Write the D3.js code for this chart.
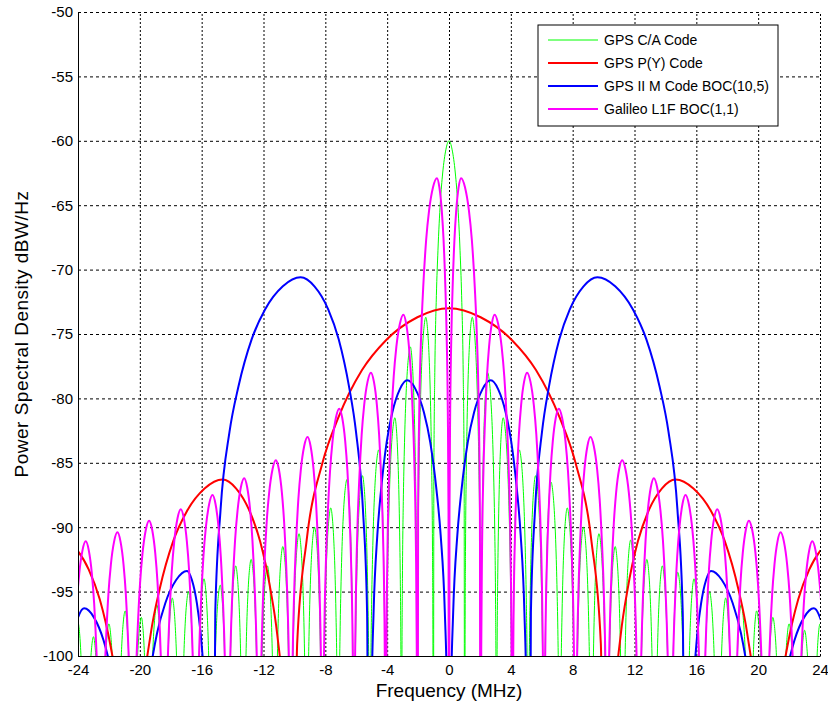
<!DOCTYPE html>
<html>
<head>
<meta charset="utf-8">
<script src="https://d3js.org/d3.v7.min.js"></script>
<style>
    body { margin: 0; background: #fff; }
    #chart text { font-family: "Liberation Sans", Arial, Helvetica, sans-serif; fill: #000; }
</style>
</head>
<body>
<div id="chart"></div>
<script>
// axis ticks
let freqTicks = [-24, -20, -16, -12, -8, -4, 0, 4, 8, 12, 16, 20, 24];
let dbTicks = [-100, -95, -90, -85, -80, -75, -70, -65, -60, -55, -50];

// GPS C/A code: null frequencies (MHz) and one peak [MHz, dBW/Hz] per lobe
let caNulls = [-24.55, -23.53, -22.51, -21.48, -20.46, -19.44, -18.41, -17.39, -16.37, -15.35, -14.32, -13.30,
    -12.28, -11.25, -10.23, -9.21, -8.18, -7.16, -6.14, -5.12, -4.09, -3.07, -2.05, -1.02,
    1.02, 2.05, 3.07, 4.09, 5.12, 6.14, 7.16, 8.18, 9.21, 10.23, 11.25, 12.28,
    13.30, 14.32, 15.35, 16.37, 17.39, 18.41, 19.44, 20.46, 21.48, 22.51, 23.53, 24.55];
let caPeaks = [
    [-24.0, -97.4], [-23.0, -98.5], [-22.0, -97.5], [-20.95, -96.5], [-19.9, -97.0], [-18.9, -96.0],
    [-17.9, -95.5], [-16.85, -95.0], [-15.85, -94.0], [-14.8, -94.5], [-13.8, -93.0], [-12.8, -92.5],
    [-11.75, -93.0], [-10.75, -91.5], [-9.7, -90.5], [-8.7, -90.0], [-7.65, -88.5], [-6.6, -86.3],
    [-5.6, -86.0], [-4.55, -84.0], [-3.5, -81.5], [-2.5, -76.0], [-1.5, -73.7],
    [0, -60.0],
    [1.5, -73.7], [2.5, -78.0], [3.5, -81.5], [4.55, -84.0], [5.6, -86.0], [6.6, -86.5],
    [7.65, -88.5], [8.7, -90.0], [9.7, -90.5], [10.75, -91.5], [11.75, -91.0], [12.8, -92.5],
    [13.8, -93.0], [14.8, -93.5], [15.85, -94.0], [16.85, -95.0], [17.9, -95.5], [18.9, -96.0],
    [19.9, -96.5], [20.95, -97.0], [22.0, -97.5], [23.0, -98.0], [24.0, -97.5]
];

// GPS P(Y) code
let pyNulls = [-30.69, -20.46, -10.23, 10.23, 20.46, 30.69];
let pyPeaks = [[-25.2, -90.8], [-14.65, -86.3], [0, -73.0], [14.65, -86.3], [25.2, -90.8]];

// GPS II M code BOC(10,5)
let mNulls = [-25.58, -20.46, -15.35, -5.12, 0, 5.12, 15.35, 20.46, 25.58];
let mPeaks = [[-23.6, -96.3], [-16.95, -93.4], [-9.6, -70.6], [-2.7, -78.6],
    [2.7, -78.6], [9.6, -70.6], [16.95, -93.4], [23.6, -96.3]];

// Galileo L1F BOC(1,1)
let boc11Nulls = [-24.55, -22.51, -20.46, -18.41, -16.37, -14.32, -12.28, -10.23, -8.18, -6.14, -4.09, -2.05, 0,
    2.05, 4.09, 6.14, 8.18, 10.23, 12.28, 14.32, 16.37, 18.41, 20.46, 22.51, 24.55];
let boc11Peaks = [
    [-23.5, -91.1], [-21.45, -90.4], [-19.4, -89.5], [-17.35, -88.6], [-15.3, -87.5], [-13.25, -86.2],
    [-11.2, -84.8], [-9.15, -83.0], [-7.1, -80.8], [-5.05, -78.0], [-2.95, -73.5], [-0.78, -62.9],
    [0.78, -62.9], [2.95, -73.5], [5.05, -78.0], [7.1, -80.8], [9.15, -83.0], [11.2, -84.8],
    [13.25, -86.2], [15.3, -87.5], [17.35, -88.6], [19.4, -89.5], [21.45, -90.4], [23.5, -91.1]
];

// shape of one lobe: [fraction of the way from peak to null, dB below peak]
let lobeProfile = [[0, 0], [0.2, -0.7], [0.4, -2.5], [0.55, -4.8], [0.7, -8.5], [0.8, -12], [0.9, -18], [0.96, -26]];
let nullDb = -140;

class psdChart {

    constructor(parentElement) {
        this.parentElement = parentElement;
        this.initVis();
    }

    initVis() {
        let vis = this;
        vis.margin = {left: 78, top: 12, right: 8, bottom: 50};
        vis.width = 828 - vis.margin.left - vis.margin.right;
        vis.height = 706 - vis.margin.top - vis.margin.bottom;

        vis.svg = d3.select("#" + vis.parentElement)
            .append("svg")
            .attr("width", 828)
            .attr("height", 706)
            .append("g")
            .attr("transform", `translate(${vis.margin.left},${vis.margin.top})`);

        vis.x = d3.scaleLinear().domain([-24, 24]).range([0, vis.width]);
        vis.y = d3.scaleLinear().domain([-100, -50]).range([vis.height, 0]);

        vis.svg.append("clipPath")
            .attr("id", "plot-clip")
            .append("rect")
            .attr("width", vis.width)
            .attr("height", vis.height);

        // dashed grid
        vis.svg.append("g")
            .attr("class", "grid")
            .call(d3.axisLeft(vis.y).tickValues(dbTicks).tickSize(-vis.width).tickFormat(""))
            .call(g => g.select(".domain").remove())
            .selectAll("line")
            .attr("stroke", "#000")
            .attr("stroke-dasharray", "3,3");

        vis.svg.append("g")
            .attr("class", "grid")
            .attr("transform", `translate(0,${vis.height})`)
            .call(d3.axisBottom(vis.x).tickValues(freqTicks).tickSize(-vis.height).tickFormat(""))
            .call(g => g.select(".domain").remove())
            .selectAll("line")
            .attr("stroke", "#000")
            .attr("stroke-dasharray", "2,2");

        vis.series = [
            {name: "GPS C/A Code", nulls: caNulls, peaks: caPeaks, color: "#00ff00", lw: 1},
            {name: "GPS P(Y) Code", nulls: pyNulls, peaks: pyPeaks, color: "#ff0000", lw: 2},
            {name: "GPS II M Code BOC(10,5)", nulls: mNulls, peaks: mPeaks, color: "#0000ff", lw: 2},
            {name: "Galileo L1F BOC(1,1)", nulls: boc11Nulls, peaks: boc11Peaks, color: "#ff00ff", lw: 2}
        ];

        vis.wrangleData();
    }

    wrangleData() {
        let vis = this;

        // turn nulls + peaks into a point list, lobe by lobe
        vis.series.forEach(s => {
            let pts = [];
            s.peaks.forEach((p, i) => {
                let lo = s.nulls[i], hi = s.nulls[i + 1];
                pts.push([lo, nullDb]);
                for (let j = lobeProfile.length - 1; j > 0; j--) {
                    pts.push([p[0] - lobeProfile[j][0] * (p[0] - lo), p[1] + lobeProfile[j][1]]);
                }
                pts.push([p[0], p[1]]);
                for (let j = 1; j < lobeProfile.length; j++) {
                    pts.push([p[0] + lobeProfile[j][0] * (hi - p[0]), p[1] + lobeProfile[j][1]]);
                }
            });
            pts.push([s.nulls[s.nulls.length - 1], nullDb]);
            s.points = pts;
        });

        vis.updateVis();
    }

    updateVis() {
        let vis = this;

        let line = d3.line()
            .x(d => vis.x(d[0]))
            .y(d => vis.y(d[1]))
            .curve(d3.curveMonotoneX);

        vis.svg.append("g")
            .attr("clip-path", "url(#plot-clip)")
            .selectAll("path")
            .data(vis.series)
            .join("path")
            .attr("d", d => line(d.points))
            .attr("fill", "none")
            .attr("stroke", d => d.color)
            .attr("stroke-width", d => d.lw)
            .attr("stroke-linejoin", "round");

        // axes (left + bottom solid), plain hyphen for negatives
        let yAxis = vis.svg.append("g")
            .call(d3.axisLeft(vis.y).tickValues(dbTicks).tickFormat(d => String(d))
                .tickSize(0).tickSizeOuter(0).tickPadding(5));
        let xAxis = vis.svg.append("g")
            .attr("transform", `translate(0,${vis.height})`)
            .call(d3.axisBottom(vis.x).tickValues(freqTicks).tickFormat(d => String(d))
                .tickSize(0).tickSizeOuter(0).tickPadding(8));
        [yAxis, xAxis].forEach(a => {
            a.select(".domain").attr("stroke", "#000").attr("stroke-width", 1);
            a.selectAll("text").attr("font-size", "15px").attr("font-family", null);
        });

        vis.svg.append("text")
            .attr("x", vis.width / 2)
            .attr("y", vis.height + 41)
            .attr("text-anchor", "middle")
            .attr("font-size", "19px")
            .text("Frequency (MHz)");

        vis.svg.append("text")
            .attr("transform", `translate(${21 - vis.margin.left},${vis.height / 2}) rotate(-90)`)
            .attr("text-anchor", "middle")
            .attr("dy", "0.35em")
            .attr("font-size", "19px")
            .attr("letter-spacing", "0.5px")
            .text("Power Spectral Density dBW/Hz");

        // legend
        let legend = vis.svg.append("g")
            .attr("transform", `translate(${538 - vis.margin.left},${25 - vis.margin.top})`);
        legend.append("rect")
            .attr("width", 240)
            .attr("height", 101)
            .attr("fill", "#fff")
            .attr("stroke", "#000");
        let rows = legend.selectAll("g.row")
            .data(vis.series)
            .join("g")
            .attr("class", "row")
            .attr("transform", (d, i) => `translate(0,${15 + i * 23})`);
        rows.append("line")
            .attr("x1", 10).attr("x2", 60)
            .attr("stroke", d => d.color)
            .attr("stroke-width", d => d.lw);
        rows.append("text")
            .attr("x", 66)
            .attr("dy", "0.35em")
            .attr("font-size", "14px")
            .text(d => d.name);
    }
}

new psdChart("chart");
</script>
</body>
</html>
